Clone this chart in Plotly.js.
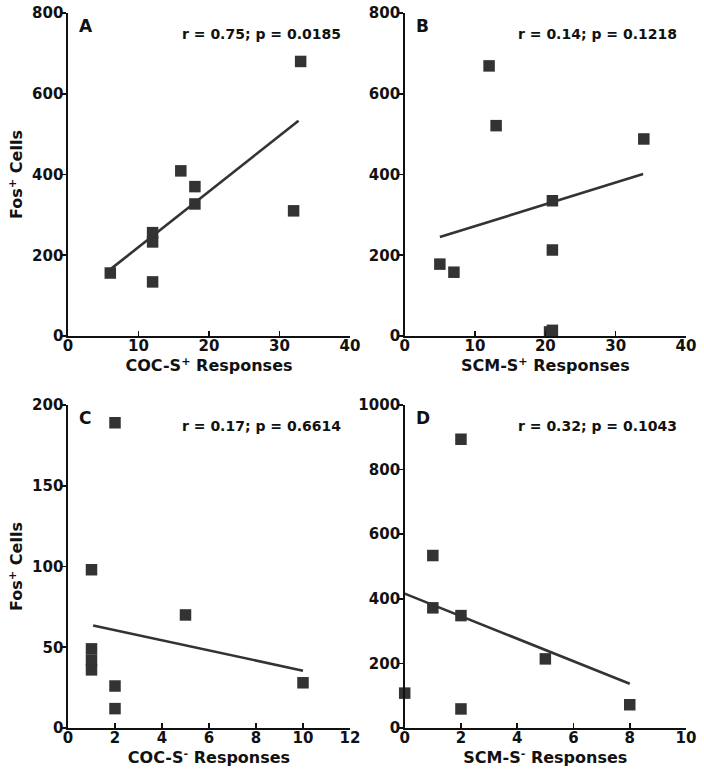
<!DOCTYPE html>
<html>
<head>
<meta charset="utf-8">
<script src="https://cdn.plot.ly/plotly-3.0.1.min.js"></script>
<style>
html,body{margin:0;padding:0;background:#fff;}
#chart{width:704px;height:780px;}
</style>
</head>
<body>
<div id="chart"></div>
<script>
// Panel A: COC-S+ responses vs Fos+ cells
const aX = [6, 12, 12, 12, 16, 18, 18, 32, 33];
const aY = [156, 134, 233, 256, 409, 370, 327, 310, 680];
const aFitX = [6, 32.7];
const aFitY = [165, 533];
// Panel B: SCM-S+ responses
const bX = [5, 7, 12, 13, 21, 21, 20.6, 21, 34];
const bY = [178, 158, 669, 521, 335, 213, 10, 14, 488];
const bFitX = [5, 33.9];
const bFitY = [245, 401];
// Panel C: COC-S- responses
const cX = [2, 1, 5, 1, 1, 1, 2, 2, 10];
const cY = [189, 98, 70, 49, 42, 36, 26, 12, 28];
const cFitX = [1.07, 10];
const cFitY = [63.5, 35.5];
// Panel D: SCM-S- responses
const dX = [0, 1, 1, 2, 2, 2, 5, 8];
const dY = [108, 534, 372, 894, 348, 59, 214, 72];
const dFitX = [0, 8];
const dFitY = [416, 137];

const panelLetters = ["A", "B", "C", "D"];
const statLabels = ["r = 0.75; p = 0.0185", "r = 0.14; p = 0.1218", "r = 0.17; p = 0.6614", "r = 0.32; p = 0.1043"];
const xTitles = ["COC-S<sup>+</sup> Responses", "SCM-S<sup>+</sup> Responses", "COC-S<sup>-</sup> Responses", "SCM-S<sup>-</sup> Responses"];
const yTitle = "Fos<sup>+</sup> Cells";
const xRanges = [[0, 40], [0, 40], [0, 12], [0, 10]];
const xDticks = [10, 10, 2, 2];
const yRanges = [[0, 800], [0, 800], [0, 200], [0, 1000]];
const yDticks = [200, 200, 50, 200];

const W = 704, H = 780;
const pxX = [[68, 350], [404.7, 686], [68, 350], [404.7, 686]];
const pxY = [[13, 336], [13, 336], [405, 728], [405, 728]];

const ink = "#333333";
const font = "DejaVu Sans, Verdana, sans-serif";

const pts = [[aX, aY, aFitX, aFitY], [bX, bY, bFitX, bFitY], [cX, cY, cFitX, cFitY], [dX, dY, dFitX, dFitY]];
const traces = [];
const layout = {
  width: W, height: H,
  margin: {l: 0, r: 0, t: 0, b: 0},
  paper_bgcolor: "#ffffff", plot_bgcolor: "#ffffff",
  showlegend: false,
  font: {family: font, size: 15, color: "#111", weight: "bold"},
  annotations: []
};

function mkTicks(range, dtick) {
  const v = [];
  for (let t = range[0]; t <= range[1] + 1e-9; t += dtick) v.push(t);
  return v;
}

for (let i = 0; i < 4; i++) {
  const s = i === 0 ? "" : String(i + 1);
  const [px, py, fx, fy] = pts[i];
  traces.push({
    type: "scatter", mode: "markers", x: px, y: py,
    xaxis: "x" + s, yaxis: "y" + s, cliponaxis: false,
    marker: {symbol: "square", size: 11.5, color: ink, line: {width: 0}}
  });
  traces.push({
    type: "scatter", mode: "lines", x: fx, y: fy,
    xaxis: "x" + s, yaxis: "y" + s, cliponaxis: false,
    line: {color: ink, width: 2.6}
  });
  const common = {
    showgrid: false, zeroline: false, showline: true,
    linecolor: "#111", linewidth: 1.6, tickwidth: 1.6, tickcolor: "#111", ticklen: 5,
    tickfont: {family: font, size: 15, color: "#111", weight: "bold"},
    tickmode: "array",
    ticklabelstandoff: -5,
    fixedrange: true
  };
  const xt = mkTicks(xRanges[i], xDticks[i]);
  const yt = mkTicks(yRanges[i], yDticks[i]);
  layout["xaxis" + s] = Object.assign({}, common, {
    domain: [pxX[i][0] / W, pxX[i][1] / W],
    range: xRanges[i], tickvals: xt, ticktext: xt.map(v => String(v)),
    ticks: "inside", anchor: "y" + s,
    title: {text: xTitles[i], font: {family: font, size: 16, color: "#111", weight: "bold"}, standoff: 4}
  });
  const yax = Object.assign({}, common, {
    domain: [1 - pxY[i][1] / H, 1 - pxY[i][0] / H],
    range: yRanges[i], tickvals: yt, ticktext: yt.map(v => String(v)),
    ticks: "outside", anchor: "x" + s
  });
  if (i % 2 === 0) {
    yax.title = {text: yTitle, font: {family: font, size: 16, color: "#111", weight: "bold"}, standoff: 5};
  }
  layout["yaxis" + s] = yax;
  layout.annotations.push({
    xref: "x" + s + " domain", yref: "y" + s + " domain",
    x: 0.032, y: 0.96, xanchor: "left", yanchor: "middle",
    text: panelLetters[i], showarrow: false,
    font: {family: font, size: 17, color: "#111", weight: "bold"}
  });
  layout.annotations.push({
    xref: "x" + s + " domain", yref: "y" + s + " domain",
    x: 0.974, y: 0.936, xanchor: "right", yanchor: "middle",
    text: statLabels[i], showarrow: false,
    font: {family: font, size: 14, color: "#111", weight: "bold"}
  });
}

Plotly.newPlot("chart", traces, layout, {displayModeBar: false, staticPlot: true});
</script>
</body>
</html>
